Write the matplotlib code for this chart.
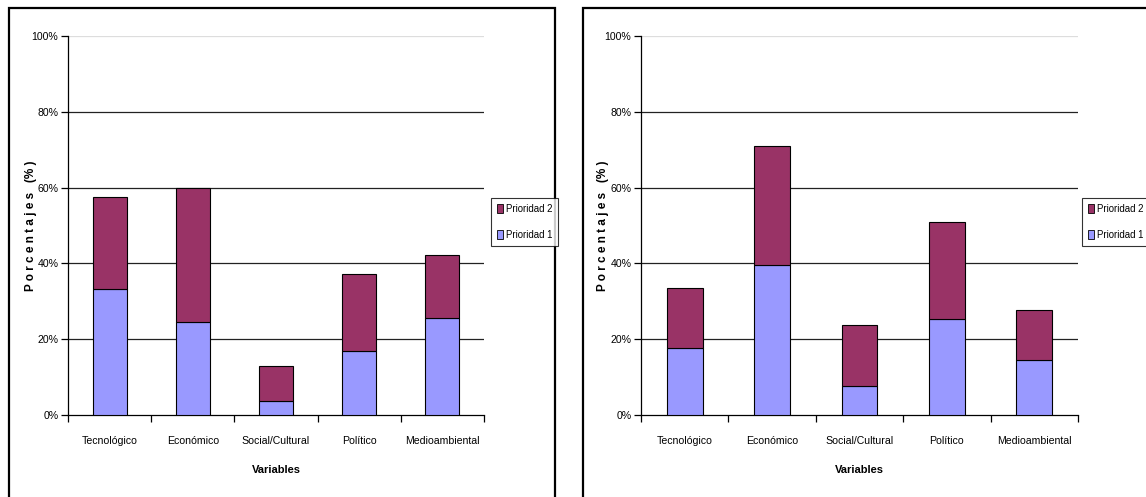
import matplotlib
matplotlib.use("Agg")
import matplotlib.pyplot as plt
from matplotlib.patches import Rectangle
from matplotlib.ticker import FixedLocator, PercentFormatter
import numpy as np

categories = ["Tecnológico", "Económico", "Social/Cultural", "Político", "Medioambiental"]

# Left chart (percent)
left_p1 = [33.3, 24.6, 3.8, 17.0, 25.6]
left_p2 = [24.2, 35.3, 9.1, 20.2, 16.6]

# Right chart (percent)
right_p1 = [17.7, 39.6, 7.7, 25.3, 14.6]
right_p2 = [15.8, 31.4, 16.0, 25.6, 13.1]

series_names = ["Prioridad 1", "Prioridad 2"]
colors = ["#9999FF", "#993366"]
y_ticks = [0, 20, 40, 60, 80, 100]

plt.rcParams['font.family'] = ['Liberation Sans', 'DejaVu Sans']

W, H = 1146, 497
fig = plt.figure(figsize=(W / 100, H / 100), dpi=100)


def px_rect(x0, y0, x1, y1):
    return [x0 / W, 1 - y1 / H, (x1 - x0) / W, (y1 - y0) / H]


def draw_panel(ax_box, p1, p2, legend_xy, ylabel_x):
    ax = fig.add_axes(ax_box)
    x = np.arange(len(categories))
    ax.bar(x, p1, width=0.41, color=colors[0], edgecolor="black", linewidth=0.8,
           label=series_names[0], zorder=3)
    ax.bar(x, p2, width=0.41, bottom=p1, color=colors[1], edgecolor="black",
           linewidth=0.8, label=series_names[1], zorder=3)
    ax.set_xlim(-0.5, len(categories) - 0.5)
    ax.set_ylim(0, 100)
    ax.set_yticks(y_ticks)
    ax.yaxis.set_major_formatter(PercentFormatter(decimals=0))
    for v in y_ticks[1:-1]:
        ax.axhline(v, color="#222222", linewidth=0.9, zorder=1)
    ax.axhline(100, color="#dddddd", linewidth=0.9, zorder=1)
    ax.set_xticks(x)
    ax.set_xticklabels(categories)
    ax.xaxis.set_minor_locator(FixedLocator(np.arange(-0.5, len(categories), 1.0)))
    ax.tick_params(axis="x", which="major", length=0, pad=15, labelsize=7.6)
    ax.tick_params(axis="x", which="minor", length=5, width=0.9, direction="out")
    ax.tick_params(axis="y", length=5, width=0.9, direction="out", labelsize=7.6, pad=2)
    for s in ("top", "right"):
        ax.spines[s].set_visible(False)
    for s in ("left", "bottom"):
        ax.spines[s].set_linewidth(0.9)
    ax.set_xlabel("Variables", fontweight="bold", fontsize=8, labelpad=14)
    ax.set_ylabel("P o r c e n t a j e s   (% )", fontweight="bold", fontsize=8.5)
    ax.yaxis.set_label_coords(ylabel_x, 0.5)
    handles, labels = ax.get_legend_handles_labels()
    leg = fig.legend(handles[::-1], labels[::-1], loc="upper left",
                     bbox_to_anchor=legend_xy, frameon=True, fancybox=False,
                     edgecolor="black", fontsize=6.9, handlelength=0.65,
                     handleheight=1.0, handletextpad=0.3, borderpad=0.6,
                     labelspacing=1.7, borderaxespad=0)
    leg.get_frame().set_linewidth(0.8)
    for h in leg.legend_handles:
        h.set_linewidth(0.6)
    return ax


draw_panel(px_rect(68, 36, 484, 415), left_p1, left_p2, (491 / W, 1 - 198 / H), -0.075)
draw_panel(px_rect(641, 36, 1078, 415), right_p1, right_p2, (1082 / W, 1 - 198 / H), -0.074)

# Chart frames
for x0, x1 in ((9, 555), (583, 1160)):
    fig.patches.append(Rectangle((x0 / W, -0.1), (x1 - x0) / W, 1.1 - 8 / H,
                                 transform=fig.transFigure, fill=False,
                                 edgecolor="black", linewidth=1.6, clip_on=False))

fig.savefig("out.png", dpi=100)
